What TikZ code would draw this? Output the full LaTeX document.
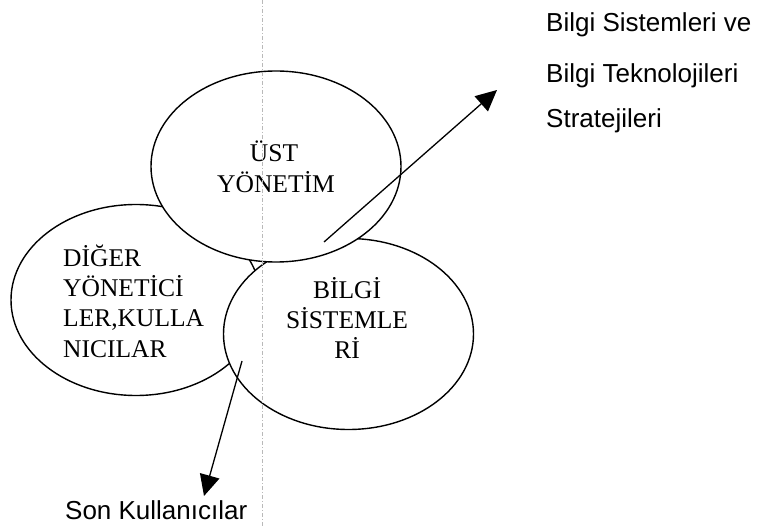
\documentclass[tikz,border=0pt]{standalone}
\usepackage{fontspec}
\setmainfont{Liberation Serif}
\newfontfamily\sansf{Liberation Sans}
\usetikzlibrary{shapes.geometric,arrows.meta}
\tikzset{
  bubble/.style={ellipse,draw=black,line width=1.4pt,fill=white,inner sep=0pt,minimum width=250pt,minimum height=191pt},
  serifline/.style={inner sep=0pt,anchor=base,font=\fontsize{25.5}{30}\selectfont},
  serifleft/.style={inner sep=0pt,anchor=base west,font=\fontsize{25.5}{30}\selectfont},
  sansline/.style={inner sep=0pt,anchor=base west,font=\sansf\fontsize{26}{30}\selectfont},
  flow/.style={line width=1.3pt,-{Triangle[length=21pt,width=20pt]}},
  guide/.style={draw=gray!55,line width=0.7pt,dash pattern=on 4pt off 2pt on 1pt off 2pt}
}
\begin{document}
\begin{tikzpicture}[x=1pt,y=-1pt]
\useasboundingbox (0,0) rectangle (760,526);
% ellipses (drawing order gives the overlaps)
\node[bubble] (diger) at (136,300) {};
\node[bubble] (bilgi) at (348.5,334) {};
\node[bubble] (ust) at (276,166.5) {};
% texts inside
\node[serifline] (ust1) at (274,162) {ÜST};
\node[serifline] (ust2) at (276,193) {YÖNETİM};
\node[serifleft] (dig1) at (63,267) {DİĞER};
\node[serifleft] (dig2) at (63,297) {YÖNETİCİ};
\node[serifleft] (dig3) at (63,327) {LER,KULLA};
\node[serifleft] (dig4) at (63,357) {NICILAR};
\node[serifline] (bil1) at (347,299) {BİLGİ};
\node[serifline] (bil2) at (347,329) {SİSTEMLE};
\node[serifline] (bil3) at (347,359) {Rİ};
% guide line
\coordinate (gtop) at (262,0);
\coordinate (gbot) at (262,526);
\draw[guide] (gtop) -- (gbot);
% outside labels
\node[sansline] (s1) at (546,32) {Bilgi Sistemleri ve};
\node[sansline] (s2) at (546,83) {Bilgi Teknolojileri};
\node[sansline] (s3) at (546,128) {Stratejileri};
\node[sansline] (son) at (65,519) {Son Kullanıcılar};
% arrows
\coordinate (a1s) at (324,242);
\coordinate (a1e) at (497,90);
\coordinate (a2s) at (242,361);
\coordinate (a2e) at (204,496);
\draw[flow] (a1s) -- (a1e);
\draw[flow] (a2s) -- (a2e);
\end{tikzpicture}
\end{document}
